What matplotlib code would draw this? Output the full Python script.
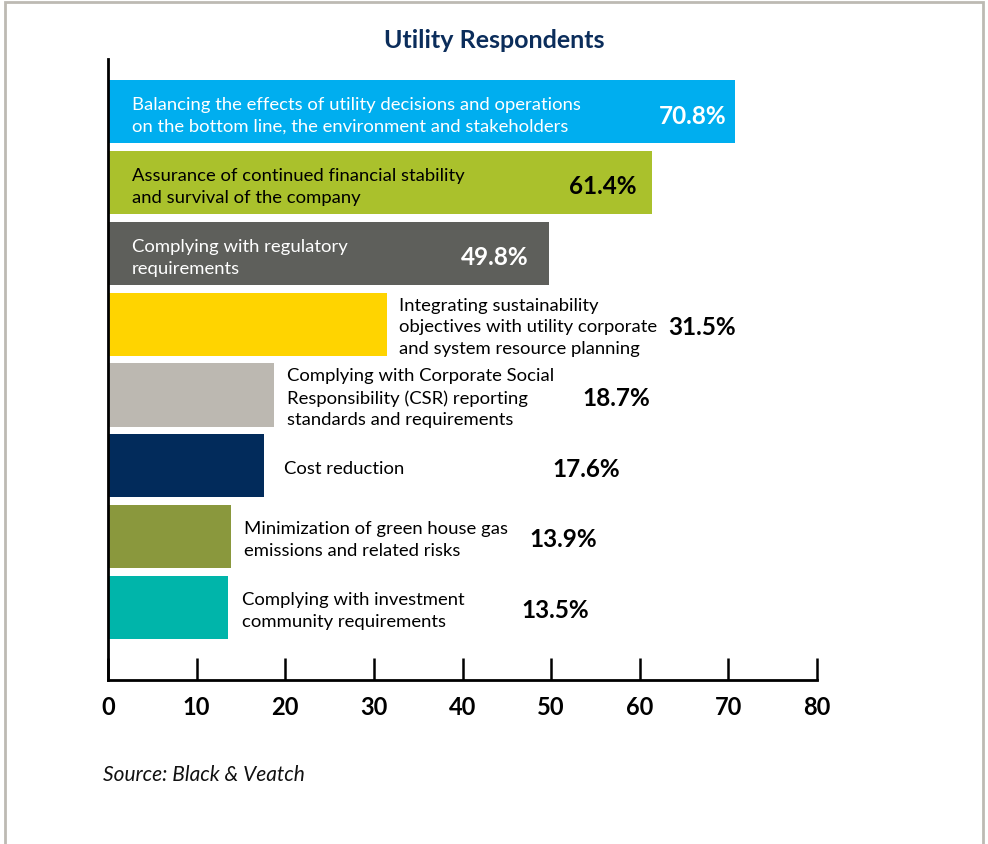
import matplotlib
matplotlib.use("Agg")
import matplotlib.pyplot as plt
from matplotlib.patches import Rectangle

plt.rcParams['font.family'] = ['Lato', 'DejaVu Sans']

# data
labels = [
    "Balancing the effects of utility decisions and operations\non the bottom line, the environment and stakeholders",
    "Assurance of continued financial stability\nand survival of the company",
    "Complying with regulatory\nrequirements",
    "Integrating sustainability\nobjectives with utility corporate\nand system resource planning",
    "Complying with Corporate Social\nResponsibility (CSR) reporting\nstandards and requirements",
    "Cost reduction",
    "Minimization of green house gas\nemissions and related risks",
    "Complying with investment\ncommunity requirements",
]
values = [70.8, 61.4, 49.8, 31.5, 18.7, 17.6, 13.9, 13.5]
colors = ["#00AEEF", "#AAC12C", "#5E5F5B", "#FFD400", "#BCB8B1", "#022B5B", "#8A983D", "#00B5AA"]
ticks = [0, 10, 20, 30, 40, 50, 60, 70, 80]

# layout for the annotations (data units)
inside = [True, True, True, False, False, False, False, False]
text_col = ["white", "black", "white", "black", "black", "black", "black", "black"]
label_gap = [0, 0, 0, 1.3, 1.5, 2.3, 1.45, 1.6]
pct_x = [69.8, 59.6, 47.4, 63.2, 53.5, 50.1, 47.5, 46.6]

fig = plt.figure(figsize=(9.88, 8.45), dpi=100)
ax = fig.add_axes([108 / 988, 1 - 681 / 845, (817 - 108) / 988, (681 - 60) / 845])

ypos = list(range(len(values)))
ax.barh(ypos, values, height=0.89, color=colors, zorder=2)
ax.set_ylim(len(values) - 1 + 1.02, -0.74)
ax.set_xlim(0, 80)

for i, (lab, v) in enumerate(zip(labels, values)):
    if inside[i]:
        ax.text(2.7, i + 0.05, lab, ha='left', va='center', fontsize=13.3,
                color=text_col[i], linespacing=1.42)
        ax.text(pct_x[i], i + 0.05, f"{v}%", ha='right', va='center', fontsize=17.5,
                fontweight='bold', color=text_col[i])
    else:
        ax.text(v + label_gap[i], i + 0.03, lab, ha='left', va='center', fontsize=13.3,
                color=text_col[i], linespacing=1.42)
        ax.text(pct_x[i], i + 0.03, f"{v}%", ha='left', va='center', fontsize=17.5,
                fontweight='bold', color=text_col[i])

for s in ['top', 'right']:
    ax.spines[s].set_visible(False)
ax.spines['left'].set_linewidth(2)
ax.spines['bottom'].set_linewidth(2)
ax.set_yticks([])
ax.set_xticks(ticks)
ax.tick_params(axis='x', direction='in', length=16, width=1.8, pad=11,
               labelsize=17)
for t in ax.get_xticklabels():
    t.set_fontweight('bold')

fig.text(494 / 988, 1 - 40 / 845, "Utility Respondents", ha='center', va='center',
         fontsize=18, fontweight='bold', color="#0B2D5B")
fig.text(103 / 988, 1 - 775 / 845, "Source: Black & Veatch", ha='left', va='center',
         fontsize=15, style='italic', color="#111111")

# gray frame
fig.patches.append(Rectangle((5 / 988, -0.05), (983 - 5) / 988, 1.05 - 3 / 845,
                             transform=fig.transFigure, fill=False,
                             edgecolor="#BDBAB3", linewidth=2))

fig.savefig("out.png", dpi=100)
